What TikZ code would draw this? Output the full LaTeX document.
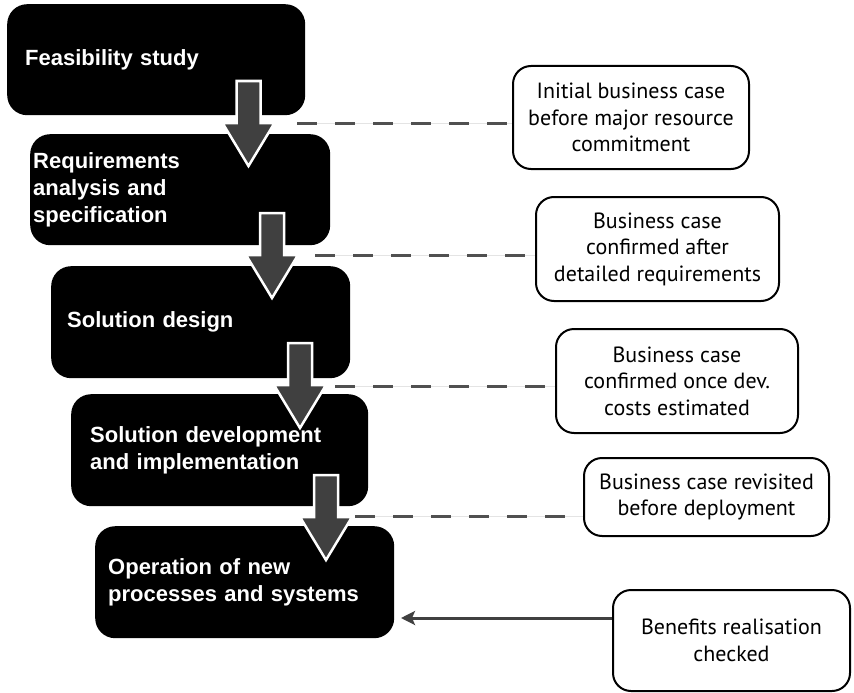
\documentclass[tikz,border=0pt]{standalone}
\usepackage{fontspec}
\setmainfont{Liberation Sans}
\newfontfamily\calloutfont{PT Sans}
\usetikzlibrary{arrows.meta}
\definecolor{arrowgray}{HTML}{404040}
\definecolor{linegray}{HTML}{505050}
\definecolor{faintgray}{HTML}{E4E4E4}
\newcommand{\blockarrow}[3]{%
  \draw[blockarrow] (#2-12,#3) -- (#2+12,#3) -- (#2+12,#3+42) -- (#2+26,#3+42)
     -- (#2,#3+85) -- (#2-26,#3+42) -- (#2-12,#3+42) -- cycle;
  \coordinate (#1) at (#2+26,#3+42);}
\begin{document}
\begin{tikzpicture}[x=1pt,y=-1pt,
  stagebox/.style={fill=black, rounded corners=20pt, anchor=north west,
    text=white, align=left, inner ysep=0pt,
    font=\bfseries\fontsize{22}{27}\selectfont},
  callout/.style={draw=black, line width=2pt, fill=white, rounded corners=18pt,
    anchor=north west, align=center, inner sep=0pt,
    font=\calloutfont\fontsize{22}{26.5}\selectfont},
  blockarrow/.style={fill=arrowgray, draw=white, line width=2.5pt, line join=miter},
  dashline/.style={draw=linegray, line width=3pt, dash pattern=on 20pt off 18pt},
  faintline/.style={draw=faintgray, line width=1pt},
  backarrow/.style={draw=arrowgray, line width=3pt, -{Stealth[length=14pt,width=14pt,inset=3pt]}}]
\useasboundingbox (0,0) rectangle (854,693);
\fill[white] (0,0) rectangle (854,693);

% stages
\node[stagebox, minimum width=298pt, minimum height=111pt, text width=262pt, inner xsep=18pt] (s1) at (7,4) {Feasibility study};
\node[stagebox, minimum width=300pt, minimum height=111pt, text width=294pt, inner xsep=3pt] (s2) at (30,134) {Requirements\\analysis and\\specification};
\node[stagebox, minimum width=299pt, minimum height=112pt, text width=267pt, inner xsep=16pt] (s3) at (51,266) {Solution design};
\node[stagebox, minimum width=297pt, minimum height=112pt, text width=259pt, inner xsep=19pt] (s4) at (71,394) {Solution development\\and implementation};
\node[stagebox, minimum width=299pt, minimum height=112pt, text width=273pt, inner xsep=13pt] (s5) at (95,526) {Operation of new\\processes and systems};

% callouts
\node[callout, minimum width=236pt, minimum height=103pt] (c1) at (512,65) {Initial business case\\before major resource\\commitment};
\node[callout, minimum width=243pt, minimum height=104pt] (c2) at (535,196) {Business case\\confirmed after\\detailed requirements};
\node[callout, minimum width=242pt, minimum height=104pt] (c3) at (555,328) {Business case\\confirmed once dev.\\costs estimated};
\node[callout, minimum width=245pt, minimum height=78pt] (c4) at (583,457) {Business case revisited\\before deployment};
\node[callout, minimum width=237pt, minimum height=101pt] (c5) at (612,589) {Benefits realisation\\checked};

% block arrows
\blockarrow{a1}{248.5}{81}
\blockarrow{a2}{272}{213}
\blockarrow{a3}{300}{343}
\blockarrow{a4}{326}{475}

% dashed links
\coordinate (d1) at (297,123);
\coordinate (d2) at (315,255);
\coordinate (d3) at (335,386);
\coordinate (d4) at (355,516);
\foreach \d/\c in {d1/c1,d2/c2,d3/c3,d4/c4}{
  \draw[faintline] (\d) -- (\d -| \c.west);
  \draw[dashline] (\d) -- (\d -| \c.west);
}

% benefits arrow
\coordinate (e5) at (401,618);
\draw[backarrow] (c5.west |- e5) -- (e5);
\end{tikzpicture}
\end{document}
